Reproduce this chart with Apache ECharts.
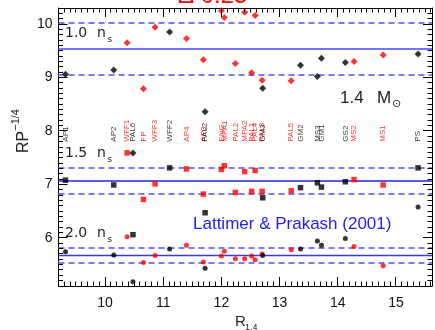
<!DOCTYPE html>
<html>
<head>
<meta charset="utf-8">
<script src="https://cdn.jsdelivr.net/npm/echarts@6/dist/echarts.min.js"></script>
<style>
html, body { margin: 0; padding: 0; background: #fff; }
#chart { width: 435px; height: 330px; }
</style>
</head>
<body>
<div id="chart"></div>
<script>
// equations of state, in order of R_1.4
var eosNames = ['AP1', 'AP2', 'WFF1', 'PAL6', 'FP', 'WFF3', 'WFF2', 'AP4', 'AP3', 'PAL2', 'ENG', 'MPA1', 'PAL2', 'MPA2', 'PAL1', 'PAL4', 'PAL3', 'GM3', 'PAL5', 'GM2', 'MS3', 'GM1', 'GS2', 'MS2', 'MS1', 'PS'];
var eosGroup = ['k', 'k', 'r', 'k', 'r', 'r', 'k', 'r', 'r', 'k', 'r', 'r', 'r', 'r', 'r', 'r', 'r', 'k', 'r', 'k', 'k', 'k', 'k', 'r', 'r', 'k'];
var r14 = [9.32, 10.15, 10.38, 10.48, 10.66, 10.86, 11.11, 11.40, 11.69, 11.72, 12.00, 12.05, 12.24, 12.40, 12.52, 12.58, 12.70, 12.71, 13.20, 13.36, 13.65, 13.72, 14.13, 14.28, 14.78, 15.38];
// R P^-1/4 at n = 1.0, 1.5, 2.0 n_s
var rp10 = [9.06, 9.14, 9.65, 7.59, 8.79, 9.94, 9.85, 9.73, 9.33, 8.36, 10.25, 10.12, 9.26, 10.22, 9.09, 10.16, 8.95, 8.80, 8.94, 9.23, 9.02, 9.36, 9.28, 9.30, 9.42, 9.44];
var rp15 = [7.08, 6.99, 7.59, 6.06, 6.72, 7.01, 7.31, 7.29, 6.82, 6.47, 7.28, 7.35, 6.85, 7.24, 6.87, 7.26, 6.87, 6.75, 6.88, 6.94, 7.03, 6.95, 7.05, 7.09, 6.99, 7.31];
var rp20 = [5.74, 5.68, 6.02, 5.18, 5.54, 5.67, 5.79, 5.86, 5.55, 5.43, 5.66, 5.75, 5.61, 5.61, 5.66, 5.59, 5.70, 5.67, 5.78, 5.79, 5.94, 5.86, 5.99, 5.84, 5.48, 6.58];
// Lattimer & Prakash fits: centre and +/- band
var bandMid = [9.53, 7.07, 5.68];
var bandHi = [10.025, 7.31, 5.82];
var bandLo = [9.05, 6.83, 5.545];
var xTicks = [10, 11, 12, 13, 14, 15];
var yTicks = [6, 7, 8, 9, 10];

var myChart = echarts.init(document.getElementById('chart'));
var colors = { k: '#000000', r: '#ff0000' };
var font = 'Liberation Sans, Arial, sans-serif';
var X0 = 9.2, X1 = 15.62, Y0 = 5.1, Y1 = 10.3;

function points(vals) {
    return vals.map(function (v, i) {
        return { value: [r14[i], v], itemStyle: { color: colors[eosGroup[i]] } };
    });
}

function bandLines() {
    var out = [];
    for (var i = 0; i < bandMid.length; i++) {
        out.push({ yAxis: bandHi[i], lineStyle: { type: [6, 4], color: '#7b7bf6', width: 2 } });
        out.push({ yAxis: bandLo[i], lineStyle: { type: [6, 4], color: '#7b7bf6', width: 2 } });
        out.push({ yAxis: bandMid[i], lineStyle: { type: 'solid', color: ['#7272ff', '#5a5af2', '#3a3ad8'][i], width: i == 2 ? 1.3 : 2 } });
    }
    return out;
}

// tenths inside the axis range as [x, y, isMajor]; integers get the long tick
function tenths(dim) {
    var lo = dim == 'x' ? X0 : Y0, hi = dim == 'x' ? X1 : Y1;
    var out = [];
    for (var k = Math.ceil(lo * 10); k <= Math.floor(hi * 10); k++) {
        var v = k / 10, major = k % 10 == 0 ? 1 : 0;
        out.push(dim == 'x' ? [v, Y0, major] : [X0, v, major]);
    }
    return out;
}

function crisp(v) { return Math.round(v - 0.5) + 0.5; }

// IDL style inward ticks on all four sides
function tickSeries(dim) {
    return {
        type: 'custom', silent: true, z: 6, clip: false,
        data: tenths(dim),
        encode: { x: 0, y: 1 },
        renderItem: function (params, api) {
            var cs = params.coordSys;
            var p = api.coord([api.value(0), api.value(1)]);
            var len = api.value(2) ? 9 : 4.5;
            var st = { stroke: '#000', lineWidth: 1 };
            if (dim == 'x') {
                var x = crisp(p[0]), b = cs.y + cs.height;
                return { type: 'group', children: [
                    { type: 'line', shape: { x1: x, y1: b, x2: x, y2: b - len }, style: st },
                    { type: 'line', shape: { x1: x, y1: cs.y, x2: x, y2: cs.y + len }, style: st }
                ] };
            }
            var y = crisp(p[1]), r = cs.x + cs.width;
            return { type: 'group', children: [
                { type: 'line', shape: { x1: cs.x, y1: y, x2: cs.x + len, y2: y }, style: st },
                { type: 'line', shape: { x1: r, y1: y, x2: r - len, y2: y }, style: st }
            ] };
        }
    };
}

function makeAxis(dim, pos) {
    var ticks = dim == 'x' ? xTicks : yTicks;
    return {
        type: 'value', position: pos,
        min: dim == 'x' ? X0 : Y0, max: dim == 'x' ? X1 : Y1,
        axisLine: { show: true, onZero: false, lineStyle: { color: '#000', width: 1 } },
        axisTick: { show: false },
        axisLabel: {
            show: pos == 'bottom' || pos == 'left',
            margin: dim == 'x' ? 10 : 6, fontSize: 14, color: '#111', fontFamily: font,
            formatter: function (v) { return ticks.indexOf(v) >= 0 ? String(v) : ''; }
        },
        splitLine: { show: false }
    };
}

function nsLabel(txt, y) {
    return [
        { type: 'text', x: 65, y: y, style: { text: txt, fontSize: 14, fontFamily: 'DejaVu Sans', fill: '#222', verticalAlign: 'middle' } },
        { type: 'text', x: 97, y: y, style: { text: 'n', fontSize: 14, fontFamily: 'DejaVu Sans', fill: '#222', verticalAlign: 'middle' } },
        { type: 'text', x: 107.5, y: y + 6.5, style: { text: 's', fontSize: 9, fontFamily: 'DejaVu Sans', fill: '#222', verticalAlign: 'middle' } }
    ];
}

var option = {
    animation: false,
    backgroundColor: '#fff',
    grid: { left: 58.5, right: 2.3, top: 8, bottom: 44 },
    xAxis: [makeAxis('x', 'bottom'), makeAxis('x', 'top')],
    yAxis: [makeAxis('y', 'left'), makeAxis('y', 'right')],
    series: [tickSeries('x'), tickSeries('y'), {
        type: 'scatter', symbol: 'diamond', symbolSize: 7, z: 5,
        data: points(rp10),
        markLine: { silent: true, symbol: 'none', label: { show: false }, z: 2, data: bandLines() }
    }, {
        type: 'scatter', symbol: 'rect', symbolSize: 5.5, z: 5,
        data: points(rp15)
    }, {
        type: 'scatter', symbol: 'circle', symbolSize: 5, z: 5,
        data: points(rp20)
    }, {
        type: 'scatter', symbolSize: 0, z: 4,
        data: eosNames.map(function (n, i) {
            return {
                value: [r14[i], 7.8], name: n,
                label: { color: colors[eosGroup[i]] }
            };
        }),
        label: {
            show: true, position: 'inside', rotate: 90, align: 'left', verticalAlign: 'middle',
            fontSize: 8, fontFamily: font,
            formatter: function (p) { return p.name; }
        }
    }],
    graphic: [].concat(
        nsLabel('1.0', 33), nsLabel('1.5', 153), nsLabel('2.0', 233),
        [
            { type: 'text', x: 340, y: 98.5, style: { text: '1.4', fontSize: 17, fontFamily: font, fill: '#222', verticalAlign: 'middle' } },
            { type: 'text', x: 377, y: 98.5, style: { text: 'M', fontSize: 17, fontFamily: font, fill: '#222', verticalAlign: 'middle' } },
            { type: 'text', x: 392, y: 104, style: { text: '⊙', fontSize: 11, fontFamily: 'DejaVu Sans', fill: '#222', verticalAlign: 'middle' } },
            { type: 'text', x: 193, y: 224, style: { text: 'Lattimer & Prakash (2001)', fontSize: 17, fontFamily: font, fill: '#2222ee', verticalAlign: 'middle' } },
            { type: 'text', x: 178, y: -3.5, style: { text: 'Δ 0.25', fontSize: 24, fontFamily: font, fill: '#ff0000', verticalAlign: 'middle' } },
            { type: 'text', x: 21, y: 131, rotation: Math.PI / 2, style: {
                text: '{a|RP}{b|−1/4}', align: 'center', verticalAlign: 'middle',
                rich: { a: { fontSize: 16, fontFamily: font, fill: '#222', lineHeight: 22, verticalAlign: 'bottom' },
                        b: { fontSize: 11, fontFamily: font, fill: '#222', verticalAlign: 'top' } }
            } },
            { type: 'text', x: 235, y: 322, style: { text: 'R', fontSize: 15, fontFamily: font, fill: '#222', verticalAlign: 'middle' } },
            { type: 'text', x: 245, y: 328, style: { text: '1.4', fontSize: 9, fontFamily: font, fill: '#222', verticalAlign: 'middle' } }
        ]
    )
};
myChart.setOption(option);
</script>
</body>
</html>
